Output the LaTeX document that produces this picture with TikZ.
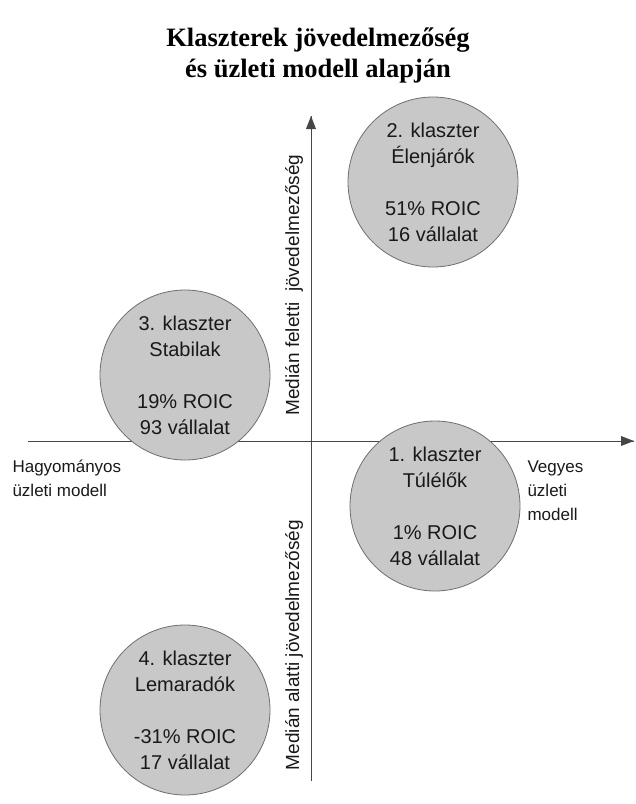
\documentclass[tikz,border=0pt]{standalone}
\usepackage{fontspec}
\setmainfont{Liberation Serif}
\setsansfont{Liberation Sans}
\usetikzlibrary{arrows.meta}
\definecolor{circlegray}{RGB}{200, 200, 200}
\definecolor{edgegray}{RGB}{110, 110, 110}
\definecolor{axisgray}{RGB}{70, 70, 70}
\definecolor{textgray}{RGB}{25, 25, 25}

\tikzset{
  cluster/.style={circle, draw=edgegray, fill=circlegray, line width=0.8pt,
    minimum size=170pt, inner sep=0pt, align=center, text=textgray,
    font=\sffamily\fontsize{20}{26}\selectfont},
  axislabel/.style={text=textgray, font=\sffamily\fontsize{17}{24}\selectfont},
  sidelabel/.style={text=textgray, rotate=90, font=\sffamily\fontsize{19}{24}\selectfont},
  axis/.style={draw=axisgray, line width=0.8pt}
}

\begin{document}
\begin{tikzpicture}[x=1pt, y=1pt]
  \useasboundingbox (0,0) rectangle (636,-804);

  \node[font=\bfseries\fontsize{26.5}{31}\selectfont, align=center] (title)
    at (318,-55) {Klaszterek jövedelmezőség\\és üzleti modell alapján};

  % axes
  \coordinate (west) at (28,-441);
  \coordinate (east) at (634,-441);
  \coordinate (south) at (311,-781);
  \coordinate (north) at (311,-116);

  \draw[axis] (west) -- (east);
  \draw[axis] (south) -- (north);
  \fill[axisgray] (east) -- ++(-13,5) -- ++(0,-10) -- cycle;
  \fill[axisgray] (north) -- ++(-5,-13) -- ++(10,0) -- cycle;

  \draw[]
   (433,-182) node[cluster](c2) {2. klaszter\\Élenjárók\\[26pt]51\% ROIC\\16 vállalat}
   (185,-375) node[cluster](c3) {3. klaszter\\Stabilak\\[26pt]19\% ROIC\\93 vállalat}
   (435,-506) node[cluster](c1) {1. klaszter\\Túlélők\\[26pt]1\% ROIC\\48 vállalat}
   (185,-710) node[cluster](c4) {4. klaszter\\Lemaradók\\[26pt]-31\% ROIC\\17 vállalat};

  \draw[]
   (9,-478) node[axislabel, anchor=west, align=left](trad) {Hagyományos\\üzleti modell}
   (524,-491) node[axislabel, anchor=west, align=left](mixed) {Vegyes\\üzleti\\modell}
   (294,-285) node[sidelabel](above) {Medián feletti\ \ jövedelmezőség}
   (294,-645) node[sidelabel](below) {Medián alatti jövedelmezőség};
\end{tikzpicture}
\end{document}
